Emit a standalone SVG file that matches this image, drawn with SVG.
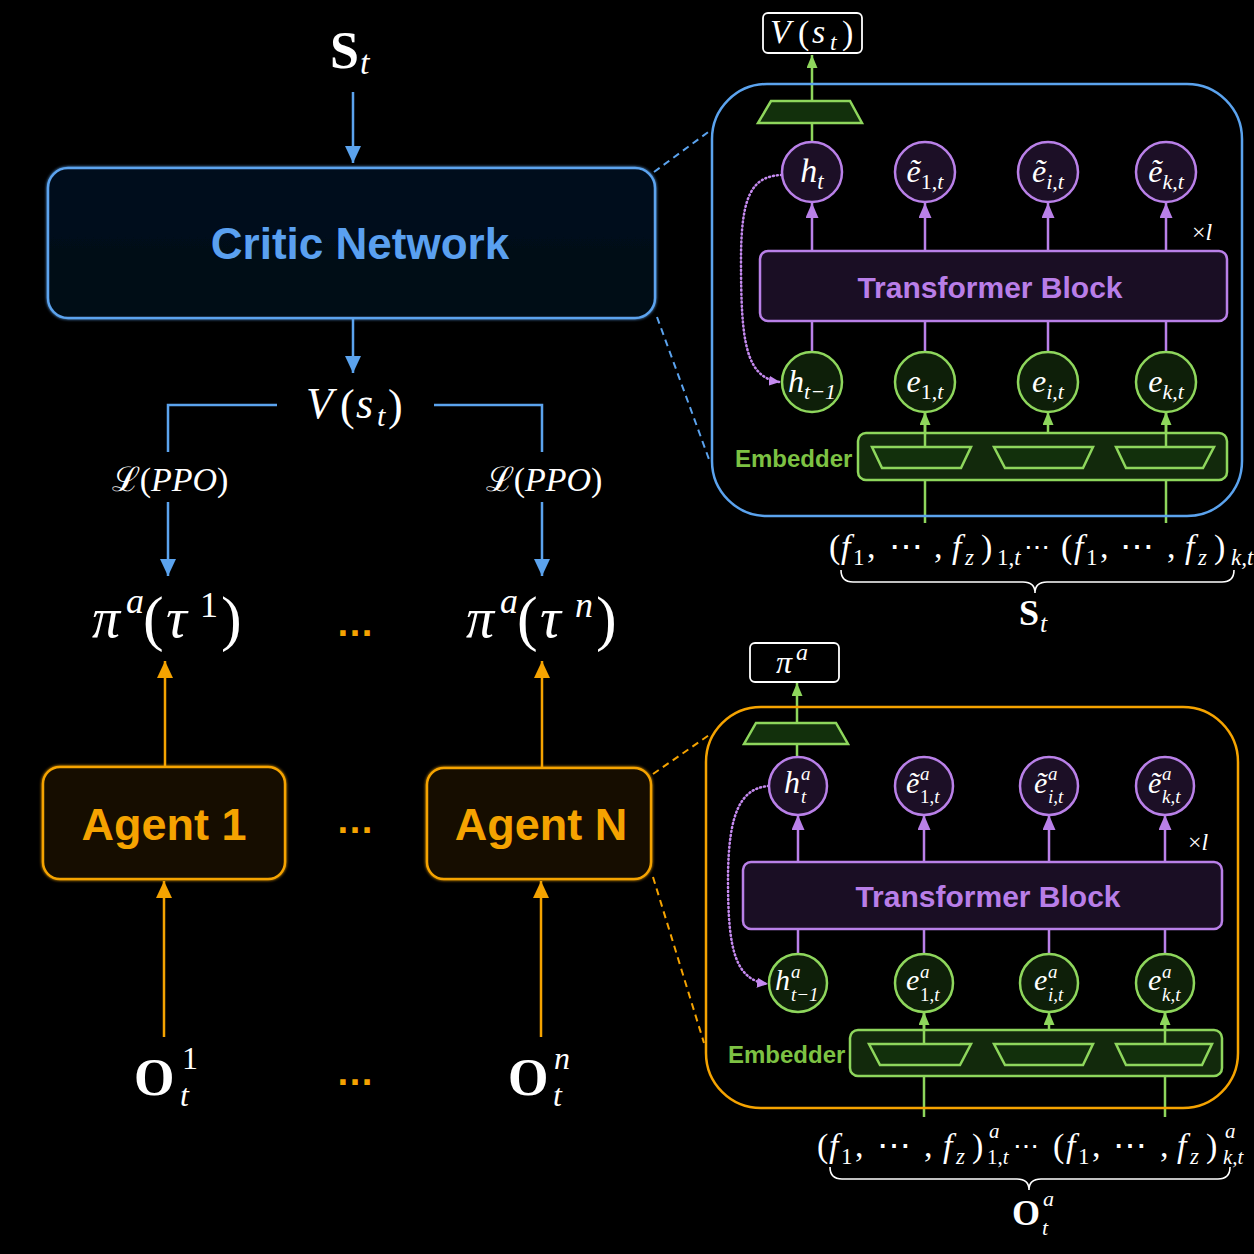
<svg xmlns="http://www.w3.org/2000/svg" width="1254" height="1254" viewBox="0 0 1254 1254">
<style>
.sans{font-family:"Liberation Sans",Arial,sans-serif;font-weight:bold}
.m{font-family:"Liberation Serif","DejaVu Serif",serif;fill:#ffffff}
.i{font-style:italic}
.b{font-weight:bold}
.blue{stroke:#5ba3ee;stroke-width:2.5;fill:none}
.orange{stroke:#f5a300;stroke-width:2.5;fill:none}
.purple{stroke:#b980e8;stroke-width:2.5;fill:none}
.green{stroke:#8ed65c;stroke-width:2.5;fill:none}
.dash-b{stroke:#5ba3ee;stroke-width:2;stroke-dasharray:7 5;fill:none}
.dash-o{stroke:#f5a300;stroke-width:2;stroke-dasharray:7 5;fill:none}
.dot{stroke:#c58af0;stroke-width:2.5;stroke-dasharray:1 3;stroke-linecap:round;fill:none}
.pc{fill:#1c0f26;stroke:#b980e8;stroke-width:2.5}
.gc{fill:#0e1f09;stroke:#8ed65c;stroke-width:2.5}
.trap{fill:#12300c;stroke:#8ed65c;stroke-width:2.5}
.ell{font-family:"Liberation Sans",Arial,sans-serif;font-weight:bold;fill:#f5a300;font-size:38px}
</style>
<defs>
<marker id="ab" viewBox="0 0 17 16" refX="17" refY="8" markerWidth="17" markerHeight="16" markerUnits="userSpaceOnUse" orient="auto"><path d="M0,0 L17,8 L0,16 z" fill="#5ba3ee"/></marker>
<marker id="ao" viewBox="0 0 17 16" refX="17" refY="8" markerWidth="17" markerHeight="16" markerUnits="userSpaceOnUse" orient="auto"><path d="M0,0 L17,8 L0,16 z" fill="#f5a300"/></marker>
<marker id="ap" viewBox="0 0 15 13" refX="15" refY="6.5" markerWidth="15" markerHeight="13" markerUnits="userSpaceOnUse" orient="auto"><path d="M0,0 L15,6.5 L0,13 z" fill="#b980e8"/></marker>
<marker id="ag" viewBox="0 0 13 11" refX="13" refY="5.5" markerWidth="13" markerHeight="11" markerUnits="userSpaceOnUse" orient="auto"><path d="M0,0 L13,5.5 L0,11 z" fill="#8ed65c"/></marker>
<marker id="ad" viewBox="0 0 11 10" refX="11" refY="5" markerWidth="11" markerHeight="10" markerUnits="userSpaceOnUse" orient="auto"><path d="M0,0 L11,5 L0,10 z" fill="#c58af0"/></marker>
<linearGradient id="critFill" x1="0" y1="0" x2="0" y2="1"><stop offset="0" stop-color="#06111f"/><stop offset="1" stop-color="#040a14"/></linearGradient>
<filter id="glow" x="-10%" y="-20%" width="120%" height="140%"><feGaussianBlur in="SourceGraphic" stdDeviation="1.8" result="b"/><feMerge><feMergeNode in="b"/><feMergeNode in="SourceGraphic"/></feMerge></filter>
</defs>
<rect width="1254" height="1254" fill="#000000"/>

<g id="connectors">
  <path class="blue" d="M353,92 V163" marker-end="url(#ab)"/>
  <path class="blue" d="M353,318 V373" marker-end="url(#ab)"/>
  <path class="blue" d="M277,405 H168 V452"/>
  <path class="blue" d="M434,405 H542 V452"/>
  <path class="blue" d="M168,502 V576" marker-end="url(#ab)"/>
  <path class="blue" d="M542,502 V576" marker-end="url(#ab)"/>
  <path class="dash-b" d="M654,172 L711,130"/>
  <path class="dash-b" d="M657,317 L710,462"/>
  <path class="orange" d="M165,767 V661" marker-end="url(#ao)"/>
  <path class="orange" d="M542,768 V661" marker-end="url(#ao)"/>
  <path class="orange" d="M164,1037 V881" marker-end="url(#ao)"/>
  <path class="orange" d="M541,1037 V881" marker-end="url(#ao)"/>
  <path class="dash-o" d="M653,774 L712,733"/>
  <path class="dash-o" d="M653,877 L704,1043"/>

  <path class="green" d="M812,143 V55" marker-end="url(#ag)"/>
  <path class="purple" d="M812,251 V203" marker-end="url(#ap)"/>
  <path class="purple" d="M925,251 V203" marker-end="url(#ap)"/>
  <path class="purple" d="M1048,251 V203" marker-end="url(#ap)"/>
  <path class="purple" d="M1166,251 V203" marker-end="url(#ap)"/>
  <path class="purple" d="M812,321 V352"/>
  <path class="purple" d="M925,321 V352"/>
  <path class="purple" d="M1048,321 V352"/>
  <path class="purple" d="M1166,321 V352"/>
  <path class="green" d="M925,523 V412" marker-end="url(#ag)"/>
  <path class="green" d="M1048,447 V412" marker-end="url(#ag)"/>
  <path class="green" d="M1166,523 V412" marker-end="url(#ag)"/>
  <path class="dot" d="M782,175 C752,176 741,195 741,260 C741,340 745,378 780,382" marker-end="url(#ad)"/>

  <path class="green" d="M797,757 V683" marker-end="url(#ag)"/>
  <path class="purple" d="M798,862 V815" marker-end="url(#ap)"/>
  <path class="purple" d="M924,862 V815" marker-end="url(#ap)"/>
  <path class="purple" d="M1049,862 V815" marker-end="url(#ap)"/>
  <path class="purple" d="M1165,862 V815" marker-end="url(#ap)"/>
  <path class="purple" d="M798,929 V954"/>
  <path class="purple" d="M924,929 V954"/>
  <path class="purple" d="M1049,929 V954"/>
  <path class="purple" d="M1165,929 V954"/>
  <path class="green" d="M924,1117 V1012" marker-end="url(#ag)"/>
  <path class="green" d="M1049,1044 V1012" marker-end="url(#ag)"/>
  <path class="green" d="M1165,1117 V1012" marker-end="url(#ag)"/>
  <path class="dot" d="M769,786 C742,788 728,810 728,880 C728,950 735,980 768,984" marker-end="url(#ad)"/>
</g>

<g id="state-top">
  <text class="m b" x="330" y="68" font-size="52">S</text>
  <text class="m i" x="360" y="74" font-size="34">t</text>
</g>

<g id="critic-network">
  <rect x="48" y="168" width="607" height="150" rx="20" fill="url(#critFill)" stroke="#5ba3ee" stroke-width="2.5" filter="url(#glow)"/>
  <text class="sans" x="360" y="259" font-size="44" text-anchor="middle" fill="#5aa0f0">Critic Network</text>
</g>

<g id="value-main">
  <text class="m i" x="306" y="418" font-size="44">V</text>
  <text class="m" x="340" y="420" font-size="44">(</text>
  <text class="m i" x="356" y="418" font-size="44">s</text>
  <text class="m i" x="377" y="426" font-size="30">t</text>
  <text class="m" x="388" y="420" font-size="44">)</text>
</g>

<g id="loss-left">
  <text class="m" x="170" y="491" font-size="34" text-anchor="middle">ℒ(<tspan class="i">PPO</tspan>)</text>
</g>
<g id="loss-right">
  <text class="m" x="544" y="491" font-size="34" text-anchor="middle">ℒ(<tspan class="i">PPO</tspan>)</text>
</g>

<g id="policy-1">
  <text class="m i" x="92" y="637" font-size="56">π</text>
  <text class="m i" x="126" y="613" font-size="36">a</text>
  <text class="m" x="143" y="639" font-size="62">(</text>
  <text class="m i" x="166" y="637" font-size="58">τ</text>
  <text class="m" x="200" y="617" font-size="36">1</text>
  <text class="m" x="221" y="639" font-size="62">)</text>
</g>
<g id="policy-n">
  <text class="m i" x="466" y="637" font-size="56">π</text>
  <text class="m i" x="500" y="613" font-size="36">a</text>
  <text class="m" x="517" y="639" font-size="62">(</text>
  <text class="m i" x="540" y="637" font-size="58">τ</text>
  <text class="m i" x="575" y="617" font-size="36">n</text>
  <text class="m" x="596" y="639" font-size="62">)</text>
</g>
<text class="ell" x="355" y="636" text-anchor="middle">…</text>

<g id="agent-1">
  <rect x="43" y="767" width="242" height="112" rx="17" fill="#120c03" stroke="#f5a300" stroke-width="2.5" filter="url(#glow)"/>
  <text class="sans" x="164" y="840" font-size="45" text-anchor="middle" fill="#f5a300">Agent 1</text>
</g>
<g id="agent-n">
  <rect x="427" y="768" width="224" height="111" rx="17" fill="#120c03" stroke="#f5a300" stroke-width="2.5" filter="url(#glow)"/>
  <text class="sans" x="541" y="840" font-size="45" text-anchor="middle" fill="#f5a300">Agent N</text>
</g>
<text class="ell" x="355" y="833" text-anchor="middle">…</text>

<g id="obs-1">
  <text class="m b" x="134" y="1095" font-size="52">O</text>
  <text class="m" x="182" y="1069" font-size="32">1</text>
  <text class="m i" x="180" y="1106" font-size="32">t</text>
</g>
<g id="obs-n">
  <text class="m b" x="508" y="1095" font-size="52">O</text>
  <text class="m i" x="554" y="1069" font-size="32">n</text>
  <text class="m i" x="553" y="1106" font-size="32">t</text>
</g>
<text class="ell" x="355" y="1085" text-anchor="middle">…</text>

<!-- Critic detail -->
<g id="critic-panel">
  <rect x="712" y="84" width="530" height="432" rx="55" fill="none" stroke="#5ba3ee" stroke-width="2.5"/>
</g>
<g id="critic-output">
  <rect x="763" y="13" width="99" height="40" rx="5" fill="#000" stroke="#ffffff" stroke-width="1.8"/>
  <text class="m i" x="770" y="43" font-size="34">V</text>
  <text class="m" x="798" y="44" font-size="34">(</text>
  <text class="m i" x="812" y="43" font-size="34">s</text>
  <text class="m i" x="830" y="50" font-size="24">t</text>
  <text class="m" x="842" y="44" font-size="34">)</text>
</g>
<g id="critic-head"><polygon class="trap" points="771,101 850,101 862,123 758,123"/></g>
<g id="c-ht"><circle class="pc" cx="812" cy="172" r="30"/><text class="m i" x="812" y="182" font-size="34" text-anchor="middle">h<tspan dy="7" font-size="23">t</tspan></text></g>
<g id="c-e1t"><circle class="pc" cx="925" cy="172" r="30"/><text class="m" x="925" y="182" font-size="32" text-anchor="middle"><tspan class="i">ẽ</tspan><tspan dy="7" font-size="22">1,</tspan><tspan class="i" font-size="22">t</tspan></text></g>
<g id="c-eit"><circle class="pc" cx="1048" cy="172" r="30"/><text class="m i" x="1048" y="182" font-size="32" text-anchor="middle">ẽ<tspan dy="7" font-size="22">i,t</tspan></text></g>
<g id="c-ekt"><circle class="pc" cx="1166" cy="172" r="30"/><text class="m i" x="1166" y="182" font-size="32" text-anchor="middle">ẽ<tspan dy="7" font-size="22">k,t</tspan></text></g>
<text class="m" x="1192" y="240" font-size="24">×<tspan class="i">l</tspan></text>
<g id="c-transformer">
  <rect x="760" y="251" width="467" height="70" rx="8" fill="#1a0e24" stroke="#b980e8" stroke-width="2.5"/>
  <text class="sans" x="990" y="298" font-size="30" text-anchor="middle" fill="#b97ee8">Transformer Block</text>
</g>
<g id="c-ht1"><circle class="gc" cx="812" cy="382" r="30"/><text class="m i" x="812" y="392" font-size="32" text-anchor="middle">h<tspan dy="7" font-size="22">t−1</tspan></text></g>
<g id="c-e1"><circle class="gc" cx="925" cy="382" r="30"/><text class="m" x="925" y="392" font-size="32" text-anchor="middle"><tspan class="i">e</tspan><tspan dy="7" font-size="22">1,</tspan><tspan class="i" font-size="22">t</tspan></text></g>
<g id="c-ei"><circle class="gc" cx="1048" cy="382" r="30"/><text class="m i" x="1048" y="392" font-size="32" text-anchor="middle">e<tspan dy="7" font-size="22">i,t</tspan></text></g>
<g id="c-ek"><circle class="gc" cx="1166" cy="382" r="30"/><text class="m i" x="1166" y="392" font-size="32" text-anchor="middle">e<tspan dy="7" font-size="22">k,t</tspan></text></g>
<g id="c-embedder">
  <text class="sans" x="735" y="467" font-size="24" fill="#7dc243">Embedder</text>
  <rect x="858" y="433" width="369" height="47" rx="8" fill="#12290c" stroke="#8ed65c" stroke-width="2.5"/>
  <polygon class="trap" points="872,447 971,447 961,468 882,468"/>
  <polygon class="trap" points="994,447 1093,447 1083,468 1005,468"/>
  <polygon class="trap" points="1116,447 1214,447 1203,468 1126,468"/>
</g>
<path d="M925,447 V412 M1166,447 V412" class="green"/>
<g id="c-input">
  <text class="m" x="829" y="558" font-size="34">(</text>
  <text class="m i" x="841" y="558" font-size="34">f</text>
  <text class="m" x="853" y="565" font-size="23">1</text>
  <text class="m" x="867" y="558" font-size="34">,</text>
  <text class="m" x="889" y="558" font-size="34">⋯</text>
  <text class="m" x="934" y="558" font-size="34">,</text>
  <text class="m i" x="952" y="558" font-size="34">f</text>
  <text class="m i" x="965" y="565" font-size="23">z</text>
  <text class="m" x="981" y="558" font-size="34">)</text>
  <text class="m" x="997" y="565" font-size="23">1,<tspan class="i">t</tspan></text>
  <text class="m" x="1024" y="556" font-size="26">⋯</text>
  <text class="m" x="1061" y="558" font-size="34">(</text>
  <text class="m i" x="1074" y="558" font-size="34">f</text>
  <text class="m" x="1086" y="565" font-size="23">1</text>
  <text class="m" x="1100" y="558" font-size="34">,</text>
  <text class="m" x="1120" y="558" font-size="34">⋯</text>
  <text class="m" x="1167" y="558" font-size="34">,</text>
  <text class="m i" x="1185" y="558" font-size="34">f</text>
  <text class="m i" x="1198" y="565" font-size="23">z</text>
  <text class="m" x="1214" y="558" font-size="34">)</text>
  <text class="m i" x="1231" y="565" font-size="23">k,t</text>
  <path d="M841,570 Q841,582 853,582 L1023,582 Q1035,582 1035,593 Q1035,582 1047,582 L1222,582 Q1234,582 1234,570" fill="none" stroke="#ffffff" stroke-width="1.6"/>
  <text class="m b" x="1019" y="625" font-size="36">S</text>
  <text class="m i" x="1040" y="632" font-size="26">t</text>
</g>

<!-- Agent detail -->
<g id="agent-panel">
  <rect x="706" y="707" width="532" height="401" rx="55" fill="none" stroke="#f5a300" stroke-width="2.5"/>
</g>
<g id="agent-output">
  <rect x="750" y="643" width="89" height="39" rx="5" fill="#000" stroke="#ffffff" stroke-width="1.8"/>
  <text class="m i" x="776" y="673" font-size="32">π</text>
  <text class="m i" x="796" y="660" font-size="24">a</text>
</g>
<g id="agent-head"><polygon class="trap" points="756,723 836,723 848,744 744,744"/></g>
<g id="a-ht"><circle class="pc" cx="798" cy="786" r="29"/>
  <text class="m i" x="784" y="793" font-size="32">h</text><text class="m i" x="801" y="780" font-size="19">a</text><text class="m i" x="801" y="803" font-size="19">t</text></g>
<g id="a-e1t"><circle class="pc" cx="924" cy="786" r="29"/>
  <text class="m i" x="906" y="793" font-size="30">ẽ</text><text class="m i" x="920" y="780" font-size="19">a</text><text class="m" x="920" y="803" font-size="19">1,<tspan class="i">t</tspan></text></g>
<g id="a-eit"><circle class="pc" cx="1049" cy="786" r="29"/>
  <text class="m i" x="1034" y="793" font-size="30">ẽ</text><text class="m i" x="1048" y="780" font-size="19">a</text><text class="m i" x="1048" y="803" font-size="19">i,t</text></g>
<g id="a-ekt"><circle class="pc" cx="1165" cy="786" r="29"/>
  <text class="m i" x="1148" y="793" font-size="30">ẽ</text><text class="m i" x="1162" y="780" font-size="19">a</text><text class="m i" x="1162" y="803" font-size="19">k,t</text></g>
<text class="m" x="1188" y="850" font-size="24">×<tspan class="i">l</tspan></text>
<g id="a-transformer">
  <rect x="743" y="862" width="479" height="67" rx="8" fill="#1a0e24" stroke="#b980e8" stroke-width="2.5"/>
  <text class="sans" x="988" y="907" font-size="30" text-anchor="middle" fill="#b97ee8">Transformer Block</text>
</g>
<g id="a-ht1"><circle class="gc" cx="798" cy="983" r="29"/>
  <text class="m i" x="775" y="990" font-size="30">h</text><text class="m i" x="791" y="978" font-size="19">a</text><text class="m i" x="791" y="1001" font-size="19">t−1</text></g>
<g id="a-e1"><circle class="gc" cx="924" cy="983" r="29"/>
  <text class="m i" x="906" y="990" font-size="30">e</text><text class="m i" x="920" y="978" font-size="19">a</text><text class="m" x="920" y="1001" font-size="19">1,<tspan class="i">t</tspan></text></g>
<g id="a-ei"><circle class="gc" cx="1049" cy="983" r="29"/>
  <text class="m i" x="1034" y="990" font-size="30">e</text><text class="m i" x="1048" y="978" font-size="19">a</text><text class="m i" x="1048" y="1001" font-size="19">i,t</text></g>
<g id="a-ek"><circle class="gc" cx="1165" cy="983" r="29"/>
  <text class="m i" x="1148" y="990" font-size="30">e</text><text class="m i" x="1162" y="978" font-size="19">a</text><text class="m i" x="1162" y="1001" font-size="19">k,t</text></g>
<g id="a-embedder">
  <text class="sans" x="728" y="1063" font-size="24" fill="#7dc243">Embedder</text>
  <rect x="850" y="1030" width="372" height="46" rx="8" fill="#12290c" stroke="#8ed65c" stroke-width="2.5"/>
  <polygon class="trap" points="869,1044 971,1044 960,1065 880,1065"/>
  <polygon class="trap" points="994,1044 1093,1044 1083,1065 1005,1065"/>
  <polygon class="trap" points="1116,1044 1212,1044 1202,1065 1126,1065"/>
</g>
<path d="M924,1044 V1012 M1165,1044 V1012" class="green"/>
<g id="a-input">
  <text class="m" x="817" y="1157" font-size="34">(</text>
  <text class="m i" x="829" y="1157" font-size="34">f</text>
  <text class="m" x="841" y="1164" font-size="23">1</text>
  <text class="m" x="855" y="1157" font-size="34">,</text>
  <text class="m" x="877" y="1157" font-size="34">⋯</text>
  <text class="m" x="924" y="1157" font-size="34">,</text>
  <text class="m i" x="943" y="1157" font-size="34">f</text>
  <text class="m i" x="956" y="1164" font-size="23">z</text>
  <text class="m" x="972" y="1157" font-size="34">)</text>
  <text class="m i" x="989" y="1138" font-size="21">a</text>
  <text class="m" x="987" y="1164" font-size="21">1,<tspan class="i">t</tspan></text>
  <text class="m" x="1013" y="1155" font-size="26">⋯</text>
  <text class="m" x="1053" y="1157" font-size="34">(</text>
  <text class="m i" x="1066" y="1157" font-size="34">f</text>
  <text class="m" x="1078" y="1164" font-size="23">1</text>
  <text class="m" x="1092" y="1157" font-size="34">,</text>
  <text class="m" x="1113" y="1157" font-size="34">⋯</text>
  <text class="m" x="1160" y="1157" font-size="34">,</text>
  <text class="m i" x="1177" y="1157" font-size="34">f</text>
  <text class="m i" x="1190" y="1164" font-size="23">z</text>
  <text class="m" x="1206" y="1157" font-size="34">)</text>
  <text class="m i" x="1225" y="1138" font-size="21">a</text>
  <text class="m i" x="1223" y="1164" font-size="21">k,t</text>
  <path d="M830,1167 Q830,1179 842,1179 L1017,1179 Q1029,1179 1029,1190 Q1029,1179 1041,1179 L1218,1179 Q1230,1179 1230,1167" fill="none" stroke="#ffffff" stroke-width="1.6"/>
  <text class="m b" x="1012" y="1225" font-size="36">O</text>
  <text class="m i" x="1043" y="1206" font-size="22">a</text>
  <text class="m i" x="1042" y="1235" font-size="22">t</text>
</g>
</svg>
